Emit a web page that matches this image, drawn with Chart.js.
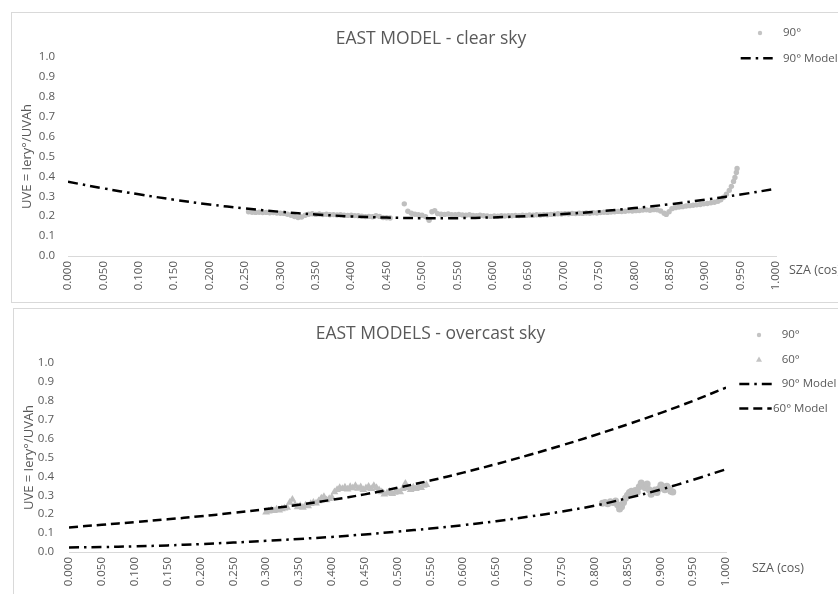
<!DOCTYPE html>
<html>
<head>
<meta charset="utf-8">
<script src="https://cdn.jsdelivr.net/npm/chart.js@4"></script>
<style>
  html, body { margin: 0; padding: 0; background: #fff; overflow: hidden; width: 838px; height: 594px; }
  .panel { position: absolute; border: 1px solid #d9d9d9; background: #fff; }
  #p1 { left: 11px; top: 12px; width: 840px; height: 289px; }
  #p2 { left: 13px; top: 308px; width: 840px; height: 300px; }
  canvas { display: block; }
</style>
</head>
<body>
<div class="panel" id="p1"><canvas id="c1" width="826" height="289"></canvas></div>
<div class="panel" id="p2"><canvas id="c2" width="824" height="285"></canvas></div>
<script>
// Axis tick labels
const xTickLabels = ['0.000','0.050','0.100','0.150','0.200','0.250','0.300','0.350','0.400','0.450','0.500',
                     '0.550','0.600','0.650','0.700','0.750','0.800','0.850','0.900','0.950','1.000'];
const yTickLabels = ['0.0','0.1','0.2','0.3','0.4','0.5','0.6','0.7','0.8','0.9','1.0'];

// Model curves, sampled at cos(SZA)
const modelX = [0,0.05,0.1,0.15,0.2,0.25,0.3,0.35,0.4,0.45,0.5,0.55,0.6,0.65,0.7,0.75,0.8,0.85,0.9,0.95,1];
const clearModel90 = [0.373,0.340,0.310,0.283,0.259,0.239,0.222,0.209,0.199,0.193,0.190,0.190,0.194,0.201,0.211,0.224,0.241,0.260,0.283,0.309,0.338];
const overcastModel90 = [0.024,0.026,0.030,0.035,0.042,0.050,0.059,0.069,0.080,0.093,0.108,0.124,0.142,0.163,0.187,0.214,0.245,0.285,0.330,0.382,0.438];
const overcastModel60 = [0.130,0.144,0.158,0.173,0.189,0.207,0.227,0.250,0.276,0.305,0.340,0.378,0.420,0.465,0.513,0.564,0.618,0.675,0.735,0.800,0.870];

// Clear sky measurements, 90° tilt
const clearObsX = [0.255,0.260,0.265,0.270,0.275,0.280,0.285,0.290,0.295,0.300,0.305,0.310,0.315,0.320,0.325,0.330,0.335,0.340,0.345,0.350,
  0.355,0.360,0.365,0.370,0.375,0.380,0.385,0.390,0.395,0.400,0.405,0.410,0.415,0.420,0.425,0.430,0.435,0.440,0.445,0.450,0.455,
  0.475,0.480,0.485,0.490,0.495,0.500,0.505,0.510,0.514,0.518,0.522,0.527,0.532,0.537,0.542,0.547,0.552,0.557,0.562,0.567,0.572,
  0.577,0.582,0.587,0.592,0.597,0.602,0.607,0.612,0.617,0.622,0.627,0.632,0.637,0.642,0.647,0.652,0.657,0.662,0.667,0.672,0.677,
  0.682,0.687,0.692,0.697,0.702,0.707,0.712,0.717,0.722,0.727,0.732,0.737,0.742,0.747,0.752,0.757,0.762,0.767,0.772,0.777,0.782,
  0.787,0.792,0.797,0.802,0.807,0.812,0.817,0.822,0.827,0.832,0.837,0.842,0.845,0.849,0.853,0.858,0.863,0.868,0.873,0.878,0.883,
  0.888,0.893,0.898,0.903,0.908,0.913,0.918,0.922,0.926,0.930,0.934,0.937,0.940,0.942,0.944,0.945];
const clearObs90 = [0.222,0.220,0.219,0.220,0.218,0.219,0.217,0.218,0.216,0.215,0.214,0.210,0.205,0.198,0.193,0.196,0.205,0.210,0.212,0.209,
  0.211,0.208,0.210,0.207,0.208,0.206,0.207,0.205,0.204,0.205,0.203,0.202,0.200,0.198,0.199,0.197,0.203,0.199,0.193,0.192,0.191,
  0.262,0.225,0.215,0.210,0.207,0.205,0.198,0.180,0.222,0.228,0.213,0.210,0.209,0.211,0.208,0.207,0.209,0.206,0.205,0.207,0.204,
  0.203,0.205,0.202,0.201,0.199,0.201,0.200,0.202,0.201,0.203,0.202,0.204,0.203,0.205,0.204,0.206,0.205,0.207,0.206,0.208,0.207,
  0.209,0.210,0.212,0.211,0.213,0.212,0.214,0.213,0.215,0.214,0.216,0.215,0.217,0.216,0.218,0.220,0.219,0.221,0.222,0.224,0.223,
  0.225,0.227,0.226,0.228,0.229,0.231,0.232,0.230,0.233,0.232,0.226,0.215,0.209,0.222,0.238,0.243,0.246,0.248,0.251,0.253,0.255,
  0.257,0.259,0.262,0.264,0.267,0.270,0.275,0.283,0.295,0.310,0.330,0.350,0.375,0.395,0.420,0.440];

// Overcast sky measurements, 90° tilt
const overcastObs90X = [0.812,0.816,0.820,0.824,0.828,0.832,0.835,0.838,0.841,0.844,0.847,0.850,0.853,0.856,0.859,0.862,0.865,0.868,
  0.871,0.874,0.877,0.880,0.883,0.886,0.889,0.892,0.895,0.898,0.901,0.904,0.907,0.910,0.913,0.916,0.919];
const overcastObs90 = [0.258,0.262,0.255,0.266,0.262,0.270,0.250,0.228,0.240,0.262,0.285,0.300,0.315,0.322,0.308,0.325,0.318,0.345,
  0.365,0.352,0.340,0.360,0.330,0.305,0.318,0.328,0.315,0.335,0.355,0.345,0.330,0.348,0.335,0.322,0.318];

// Overcast sky measurements, 60° tilt
const overcastObs60X = [0.300,0.304,0.308,0.312,0.316,0.320,0.324,0.328,0.332,0.336,0.340,0.344,0.348,0.352,0.356,0.360,0.364,0.368,
  0.372,0.376,0.380,0.384,0.388,0.392,0.396,0.400,0.404,0.408,0.412,0.416,0.420,0.424,0.428,0.432,0.436,0.440,0.444,0.448,0.452,
  0.456,0.460,0.464,0.468,0.472,0.476,0.480,0.484,0.488,0.492,0.496,0.500,0.504,0.508,0.512,0.516,0.520,0.524,0.528,0.532,0.536,
  0.540,0.544];
const overcastObs60 = [0.210,0.215,0.222,0.218,0.226,0.221,0.228,0.232,0.236,0.262,0.278,0.250,0.238,0.245,0.236,0.248,0.244,0.255,
  0.262,0.258,0.270,0.285,0.292,0.275,0.282,0.290,0.318,0.330,0.340,0.335,0.342,0.332,0.345,0.338,0.350,0.336,0.344,0.330,0.338,
  0.346,0.335,0.350,0.340,0.328,0.318,0.305,0.312,0.320,0.308,0.315,0.322,0.318,0.335,0.362,0.340,0.330,0.342,0.335,0.348,0.340,
  0.352,0.356];

const TEXT = '#595959';
const POINT = '#bfbfbf';
const FONT = '"Open Sans", sans-serif';
const DASH_DOT = [10, 5, 2.5, 5];
const DASH = [9, 5];

Chart.defaults.font.family = FONT;
Chart.defaults.color = TEXT;

const pairs = (xs, ys) => xs.map((x, i) => ({ x, y: ys[i] }));

function pointSet(label, xs, ys, style, radius) {
  return {
    label, data: pairs(xs, ys), showLine: false, order: 2,
    pointStyle: style, pointRadius: radius, pointHoverRadius: radius,
    backgroundColor: POINT, borderColor: POINT, pointBorderWidth: 0
  };
}
function modelSet(label, ys, dash) {
  return {
    label, data: pairs(modelX, ys), showLine: true, order: 1,
    borderColor: '#000', borderWidth: 2.5, borderDash: dash, borderCapStyle: 'butt',
    pointRadius: 0, pointHoverRadius: 0, tension: 0.4, fill: false
  };
}

// Title, axis caption and legend drawn beside the plot area
const panelText = {
  id: 'panelText',
  afterDraw(chart, args, o) {
    const ctx = chart.ctx;
    const area = chart.chartArea;
    ctx.save();
    ctx.fillStyle = TEXT;
    ctx.font = '17.5px ' + FONT;
    ctx.textAlign = 'center';
    ctx.textBaseline = 'alphabetic';
    ctx.fillText(o.title, o.titleX, o.titleY);

    ctx.font = '12.5px ' + FONT;
    ctx.textAlign = 'left';
    ctx.textBaseline = 'middle';
    ctx.fillText(o.xTitle, area.right + o.xTitleDX, area.bottom + o.xTitleDY);

    ctx.font = '11.5px ' + FONT;
    chart.data.datasets.forEach((ds, i) => {
      const y = o.legendY[i];
      if (ds.showLine) {
        ctx.save();
        ctx.strokeStyle = ds.borderColor;
        ctx.lineWidth = ds.borderWidth;
        ctx.setLineDash(ds.borderDash || []);
        ctx.beginPath();
        ctx.moveTo(o.lineX0, y);
        ctx.lineTo(o.lineX1, y);
        ctx.stroke();
        ctx.restore();
      } else {
        ctx.save();
        ctx.fillStyle = '#c4c4c4';
        ctx.beginPath();
        if (ds.pointStyle === 'triangle') {
          ctx.moveTo(o.markerX, y - 3);
          ctx.lineTo(o.markerX + 3, y + 2.2);
          ctx.lineTo(o.markerX - 3, y + 2.2);
          ctx.closePath();
        } else {
          ctx.arc(o.markerX, y, 2.2, 0, Math.PI * 2);
        }
        ctx.fill();
        ctx.restore();
      }
      ctx.fillStyle = TEXT;
      ctx.fillText(ds.label, o.textX[i], y);
    });
    ctx.restore();
  }
};

function scales(yWidth, xHeight, yPad) {
  return {
    x: {
      type: 'linear', min: 0, max: 1,
      grid: { drawOnChartArea: false, drawTicks: false, color: 'rgba(0,0,0,0)' },
      border: { display: true, color: '#d9d9d9', width: 1 },
      ticks: {
        stepSize: 0.05, autoSkip: false, minRotation: 90, maxRotation: 90, padding: 5,
        color: TEXT, font: { size: 11.5, family: FONT },
        callback: (v, i) => xTickLabels[i]
      },
      afterFit: s => { s.height = xHeight; }
    },
    y: {
      type: 'linear', min: 0, max: 1,
      grid: { display: false, drawTicks: false },
      border: { display: false },
      ticks: {
        stepSize: 0.1, padding: yPad, color: TEXT, font: { size: 11.5, family: FONT },
        callback: (v, i) => yTickLabels[i]
      },
      title: {
        display: true, text: 'UVE = Iery°/UVAh', color: TEXT,
        font: { size: 13, family: FONT }, padding: { top: 7, bottom: 0 }
      },
      afterFit: s => { s.width = yWidth; }
    }
  };
}

new Chart(document.getElementById('c1'), {
  type: 'scatter',
  data: {
    datasets: [
      pointSet('90°', clearObsX, clearObs90, 'circle', 2.7),
      modelSet('90° Model', clearModel90, DASH_DOT)
    ]
  },
  options: {
    responsive: false, animation: false, devicePixelRatio: 1,
    layout: { padding: { left: 0, right: 62, top: 44, bottom: 0 } },
    scales: scales(56, 46, 13),
    plugins: {
      legend: { display: false }, tooltip: { enabled: false }, title: { display: false },
      panelText: {
        title: 'EAST MODEL - clear sky', titleX: 419, titleY: 31,
        xTitle: 'SZA (cos)', xTitleDX: 13, xTitleDY: 14,
        legendY: [20, 45.3], markerX: 748, lineX0: 728.7, lineX1: 760.7, textX: [771, 771]
      }
    }
  },
  plugins: [panelText]
});

new Chart(document.getElementById('c2'), {
  type: 'scatter',
  data: {
    datasets: [
      pointSet('90°', overcastObs90X, overcastObs90, 'circle', 3.5),
      pointSet('60°', overcastObs60X, overcastObs60, 'triangle', 4.5),
      modelSet('90° Model', overcastModel90, DASH_DOT),
      modelSet('60° Model', overcastModel60, DASH)
    ]
  },
  options: {
    responsive: false, animation: false, devicePixelRatio: 1,
    layout: { padding: { left: 0, right: 112, top: 54, bottom: 0 } },
    scales: scales(55, 42, 15),
    plugins: {
      legend: { display: false }, tooltip: { enabled: false }, title: { display: false },
      panelText: {
        title: 'EAST MODELS - overcast sky', titleX: 416.5, titleY: 30.3,
        xTitle: 'SZA (cos)', xTitleDX: 26, xTitleDY: 16,
        legendY: [26, 50.5, 75, 99.5], markerX: 745, lineX0: 725.3, lineX1: 757.7,
        textX: [767.7, 767.7, 767.7, 759]
      }
    }
  },
  plugins: [panelText]
});
</script>
</body>
</html>
